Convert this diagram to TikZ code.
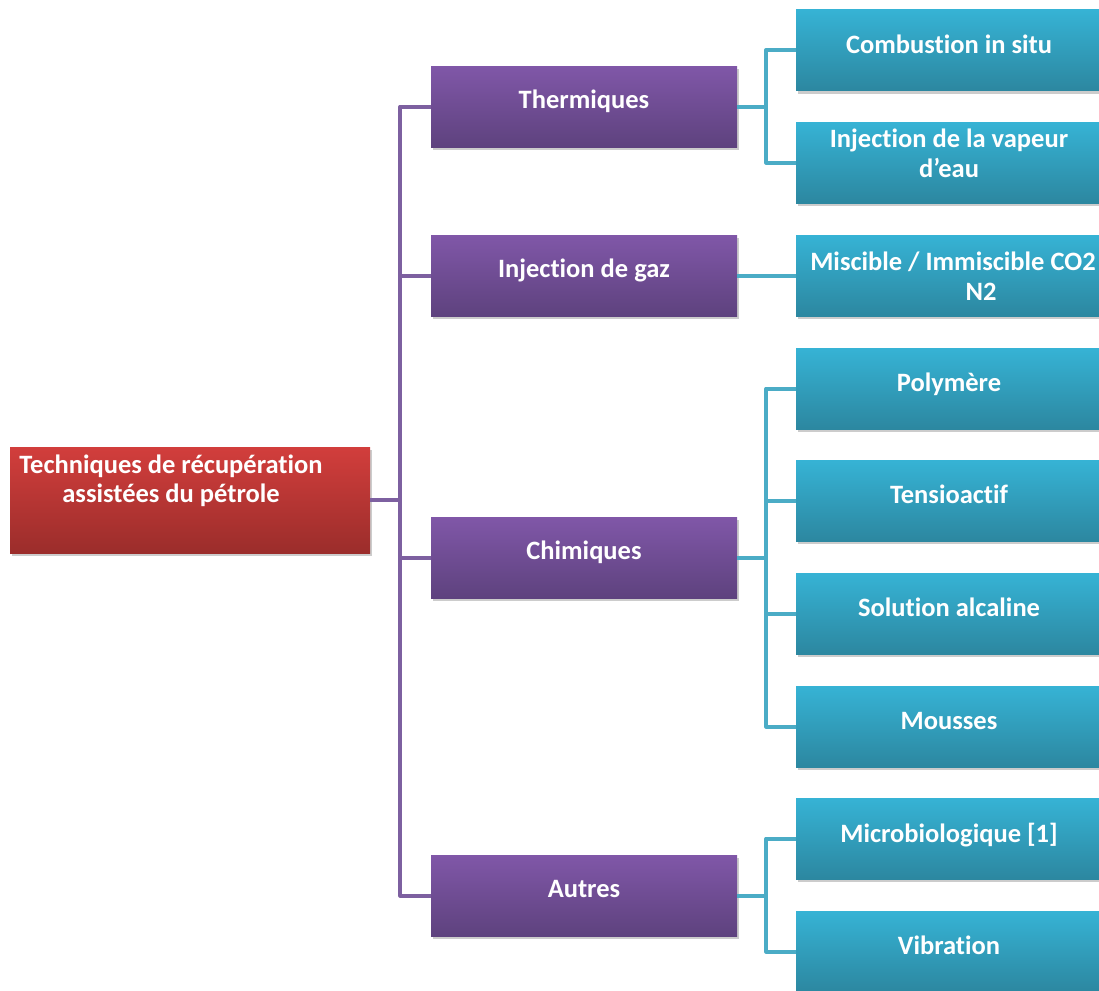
\documentclass[tikz,border=0pt]{standalone}
\usepackage{fontspec}
\setmainfont{Carlito}[Ligatures=NoCommon]
\usetikzlibrary{shadows}
\definecolor{rootTop}{RGB}{210,62,60}
\definecolor{rootBot}{RGB}{155,45,43}
\definecolor{purTop}{RGB}{128,87,168}
\definecolor{purBot}{RGB}{94,66,126}
\definecolor{bluTop}{RGB}{54,179,213}
\definecolor{bluBot}{RGB}{44,135,160}
\definecolor{purLine}{RGB}{125,96,160}
\definecolor{bluLine}{RGB}{75,172,198}
\begin{document}
\begin{tikzpicture}[x=1pt,y=-1pt,
  box/.style={rectangle, inner sep=0pt, minimum width=306pt, minimum height=81pt,
    drop shadow={shadow xshift=2pt, shadow yshift=-3pt, opacity=0.2, fill=black}},
  rootbox/.style={box, minimum width=360pt, minimum height=106pt, top color=rootTop, bottom color=rootBot},
  catbox/.style={box, top color=purTop, bottom color=purBot},
  leafbox/.style={box, top color=bluTop, bottom color=bluBot},
  lbl/.style={text=white, font=\fontsize{26.5}{29.5}\selectfont\bfseries, inner sep=0pt, align=center, anchor=base},
  pline/.style={draw=purLine, line width=4pt, line join=round},
  bline/.style={draw=bluLine, line width=4pt, line join=round}]
\useasboundingbox (0,0) rectangle (1099,990);
\clip (0,0) rectangle (1099,990);
% boxes
\node[rootbox] (root) at (190,500) {};
\node[catbox] (th) at (584,106.5) {};
\node[catbox] (gz) at (584,275.5) {};
\node[catbox] (ch) at (584,557.5) {};
\node[catbox] (au) at (584,895.5) {};
\node[leafbox] (c1) at (949,50) {};
\node[leafbox] (c2) at (949,162.5) {};
\node[leafbox] (mg) at (949,275.5) {};
\node[leafbox] (po) at (949,388.5) {};
\node[leafbox] (te) at (949,500.5) {};
\node[leafbox] (so) at (949,613.5) {};
\node[leafbox] (mo) at (949,726.5) {};
\node[leafbox] (mi) at (949,838.5) {};
\node[leafbox] (vi) at (949,951.5) {};
% connectors
\draw[pline] (root.east) -- ++(30,0) coordinate (pj);
\draw[pline] (pj) |- (th.west);
\draw[pline] (pj) |- (gz.west);
\draw[pline] (pj) |- (ch.west);
\draw[pline] (pj) |- (au.west);
\draw[bline] (th.east) -- ++(29,0) coordinate (bj1);
\draw[bline] (bj1) |- (c1.west);
\draw[bline] (bj1) |- (c2.west);
\draw[bline] (gz.east) -- (mg.west);
\draw[bline] (ch.east) -- ++(29,0) coordinate (bj3);
\draw[bline] (bj3) |- (po.west);
\draw[bline] (bj3) |- (te.west);
\draw[bline] (bj3) |- (so.west);
\draw[bline] (bj3) |- (mo.west);
\draw[bline] (au.east) -- ++(29,0) coordinate (bj4);
\draw[bline] (bj4) |- (mi.west);
\draw[bline] (bj4) |- (vi.west);
% labels (base anchor = baseline of the last line)
\node[lbl] (troot) at (171,502.7) {Techniques de récupération\\assistées du pétrole};
\node[lbl] (tth) at (584,108.5) {Thermiques};
\node[lbl] (tgz) at (584,277.5) {Injection de gaz};
\node[lbl] (tch) at (584,559.5) {Chimiques};
\node[lbl] (tau) at (584,897.5) {Autres};
\node[lbl] (tc1) at (949,53) {Combustion in situ};
\node[lbl] (tc2) at (949,177) {Injection de la vapeur\\d’eau};
\node[lbl] (tmg) at (953,300) {Miscible / Immiscible CO2\\\hspace*{56pt}N2};
\node[lbl] (tpo) at (949,391.5) {Polymère};
\node[lbl] (tte) at (949,503.5) {Tensioactif};
\node[lbl] (tso) at (949,616.5) {Solution alcaline};
\node[lbl] (tmo) at (949,729.5) {Mousses};
\node[lbl] (tmi) at (949,842) {Microbiologique [1]};
\node[lbl] (tvi) at (949,954) {Vibration};
\end{tikzpicture}
\end{document}
